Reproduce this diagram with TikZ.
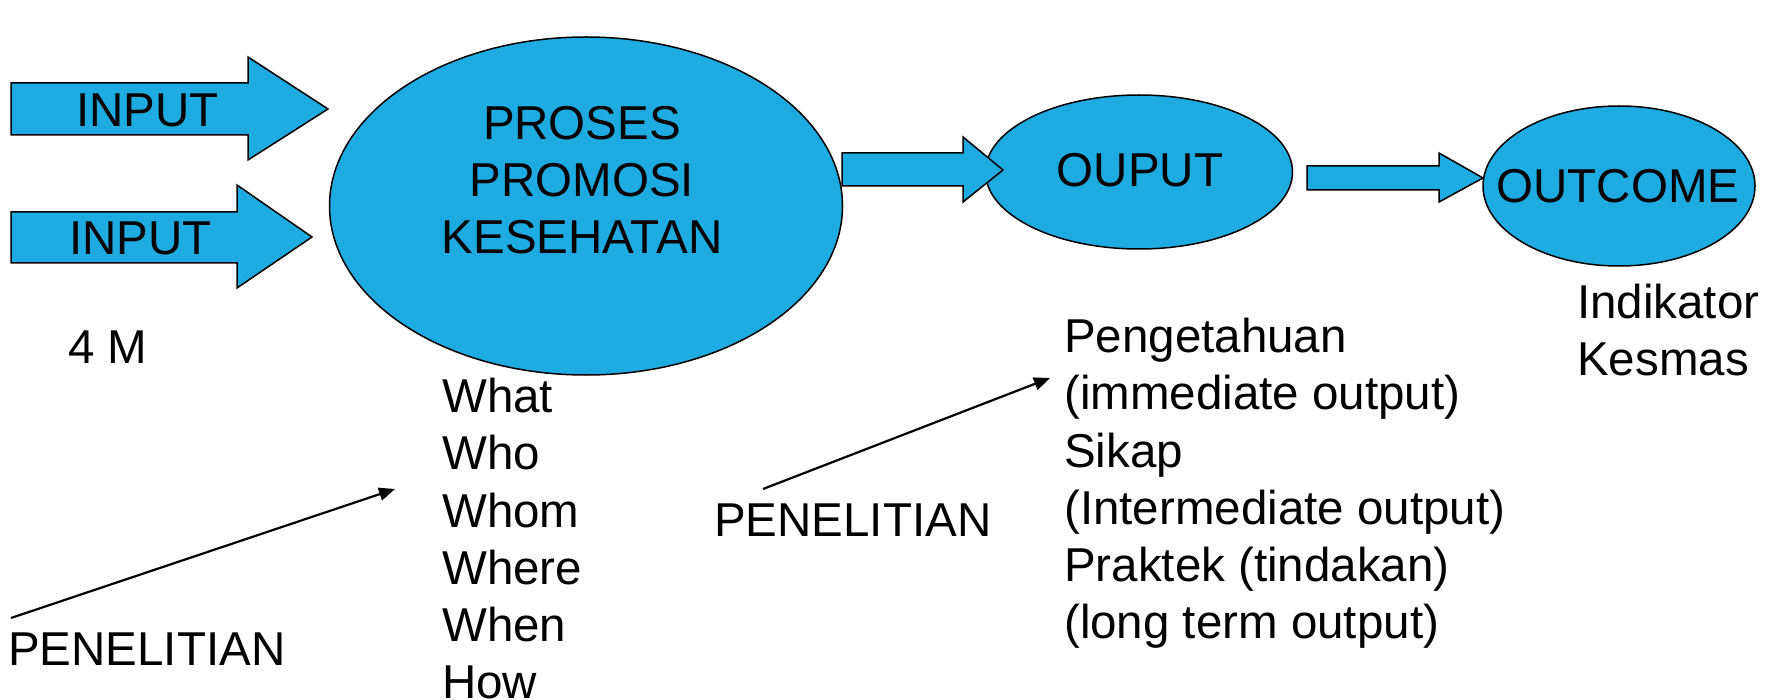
\documentclass[tikz,border=0pt]{standalone}
\usepackage{fontspec}
\setmainfont{Liberation Sans}
\usetikzlibrary{arrows.meta,shapes.geometric}
\definecolor{promoblue}{RGB}{30,171,226}
\tikzset{
  bubble/.style={ellipse,draw,fill=promoblue,line width=1.5pt,inner sep=0pt},
  fatarrow/.style={draw,fill=promoblue,line width=1.5pt,line join=miter},
  txt/.style={inner sep=0pt,font=\fontsize{47.5}{57.2}\selectfont},
  pointer/.style={line width=2.2pt,-{Triangle[length=16pt,width=13pt]}}
}
\begin{document}
\begin{tikzpicture}[x=1pt,y=-1pt]
\useasboundingbox (0,0) rectangle (1782,700);
% ellipses
\node[bubble,minimum width=513pt,minimum height=338pt] (proses) at (586,206) {};
\node[bubble,minimum width=307pt,minimum height=154pt] (ouput) at (1139,172) {};
\node[bubble,minimum width=272pt,minimum height=160pt] (outcome) at (1619,186) {};
\node[txt,align=center] (prosestxt) at (582,180) {PROSES\\PROMOSI\\KESEHATAN};
\node[txt] (ouputtxt) at (1140,170) {OUPUT};
\node[txt] (outcometxt) at (1618,186) {OUTCOME};
% block arrows
\draw[fatarrow] (11,83) -- (248,83) -- (248,57) -- (328,109) -- (248,160) -- (248,135) -- (11,135) -- cycle;
\draw[fatarrow] (11,212) -- (237,212) -- (237,185) -- (312,237) -- (237,288) -- (237,263) -- (11,263) -- cycle;
\draw[fatarrow] (842,153) -- (963,153) -- (963,137) -- (1003,170) -- (963,202) -- (963,186) -- (842,186) -- cycle;
\draw[fatarrow] (1307,166) -- (1439,166) -- (1439,153) -- (1483,178) -- (1439,202) -- (1439,190) -- (1307,190) -- cycle;
\node[txt,anchor=west] (in1) at (76,110) {INPUT};
\node[txt,anchor=west] (in2) at (69,238) {INPUT};
% texts below
\node[txt,anchor=west] (m4) at (68,347) {4 M};
\node[txt,anchor=north west,align=left] (wlist) at (442,378) {What\\Who\\Whom\\Where\\When\\How};
\node[txt,anchor=north west,align=left] (olist) at (1064,318) {Pengetahuan\\(immediate output)\\Sikap\\(Intermediate output)\\Praktek (tindakan)\\(long term output)};
\node[txt,anchor=north west,align=left] (ind) at (1577,284) {Indikator\\Kesmas};
\node[txt,anchor=west] (pen1) at (8,649) {PENELITIAN};
\node[txt,anchor=west] (pen2) at (714,520) {PENELITIAN};
% research arrows
\coordinate (r1) at (11,618);
\coordinate (r1end) at (395,489);
\coordinate (r2) at (763,489);
\coordinate (r2end) at (1050,378);
\draw[pointer] (r1) -- (r1end);
\draw[pointer] (r2) -- (r2end);
\end{tikzpicture}
\end{document}
